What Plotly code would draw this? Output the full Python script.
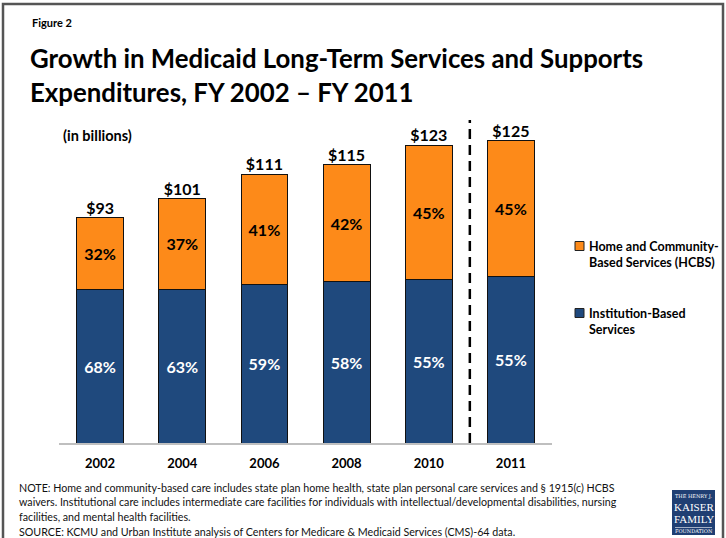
import plotly.graph_objects as go

years = ["2002", "2004", "2006", "2008", "2010", "2011"]
totals = [93, 101, 111, 115, 123, 125]
inst_pct = [68, 63, 59, 58, 55, 55]
hcbs_pct = [32, 37, 41, 42, 45, 45]
total_labels = ["$93", "$101", "$111", "$115", "$123", "$125"]
legend_names = ["Home and Community-<br>Based Services (HCBS)", "Institution-Based<br>Services"]
note_lines = [
    "NOTE: Home and community-based care includes state plan home health, state plan personal care services and § 1915(c) HCBS",
    "waivers. Institutional care includes intermediate care facilities for individuals with intellectual/developmental disabilities, nursing",
    "facilities, and mental health facilities.",
    "SOURCE: KCMU and Urban Institute analysis of Centers for Medicare & Medicaid Services (CMS)-64 data.",
]

inst_vals = [t * p / 100 for t, p in zip(totals, inst_pct)]
hcbs_vals = [t - i for t, i in zip(totals, inst_vals)]

ORANGE = "#FD8A19"
BLUE = "#1F497D"
FONT = "Lato"
W, H = 726, 538

def px(x):
    return x / W

def py(y):
    return 1 - y / H

fig = go.Figure()
fig.add_trace(go.Bar(
    x=years, y=inst_vals, name="Institution-Based Services",
    marker=dict(color=BLUE, line=dict(color="#111111", width=1)),
    text=[f"<b>{p}%</b>" for p in inst_pct], textposition="inside",
    insidetextanchor="middle", textangle=0,
    textfont=dict(color="white", size=16, family=FONT),
    hoverinfo="skip"))
fig.add_trace(go.Bar(
    x=years, y=hcbs_vals, name="Home and Community-Based Services (HCBS)",
    marker=dict(color=ORANGE, line=dict(color="#111111", width=1)),
    text=[f"<b>{p}%</b>" for p in hcbs_pct], textposition="inside",
    insidetextanchor="middle", textangle=0,
    textfont=dict(color="black", size=16, family=FONT),
    hoverinfo="skip"))
fig.add_trace(go.Scatter(
    x=years, y=totals, mode="text",
    text=[f"<b>{t}</b>" for t in total_labels], textposition="top center",
    textfont=dict(color="black", size=16, family=FONT),
    hoverinfo="skip", cliponaxis=False))

ymax = (443 - 110) / 2.42
fig.update_layout(
    width=W, height=H, margin=dict(l=0, r=0, t=0, b=0),
    paper_bgcolor="white", plot_bgcolor="white",
    barmode="stack", bargap=0.43, showlegend=False,
    font=dict(family=FONT, color="black"),
    xaxis=dict(domain=[px(59), px(552)], range=[-0.5, 5.5], type="category",
               showgrid=False, zeroline=False, showline=True,
               linecolor="#BFBFBF", linewidth=1.5, ticks="",
               tickfont=dict(size=13, color="black", family=FONT),
               ticklabelstandoff=8,
               tickvals=years, ticktext=[f"<b>{y}</b>" for y in years]),
    yaxis=dict(domain=[py(443), py(110)], range=[0, ymax], visible=False),
)

shapes = [
    dict(type="line", xref="x", yref="y", x0=4.5, x1=4.5, y0=0, y1=(443 - 120) / 2.42,
         line=dict(color="black", width=2.5, dash="10px,6px")),
    dict(type="rect", xref="paper", yref="paper", x0=px(3), x1=px(723), y0=py(545), y1=py(4),
         line=dict(color="#555555", width=2.5), fillcolor="rgba(0,0,0,0)", layer="above"),
    dict(type="rect", xref="paper", yref="paper", x0=px(672), x1=px(715), y0=py(535), y1=py(490),
         line=dict(width=0), fillcolor="#1F3F73"),
    dict(type="line", xref="paper", yref="paper", x0=px(675), x1=px(712), y0=py(527.5), y1=py(527.5),
         line=dict(color="white", width=0.6)),
]
leg_y = [246, 313]
leg_col = [ORANGE, BLUE]
for yy, c in zip(leg_y, leg_col):
    shapes.append(dict(type="rect", xref="paper", yref="paper",
                       x0=px(575), x1=px(584), y0=py(yy + 4.5), y1=py(yy - 4.5),
                       line=dict(color="#222222", width=1), fillcolor=c))
fig.update_layout(shapes=shapes)

ann = [
    dict(text="<b>Figure 2</b>", x=px(30), y=py(22), xanchor="left", yanchor="middle",
         font=dict(size=11, family=FONT)),
    dict(text="<b>Growth in Medicaid Long-Term Services and Supports<br>Expenditures, FY 2002 – FY 2011</b>",
         x=px(28), y=py(41), xanchor="left", yanchor="top", align="left",
         font=dict(size=25.8, family=FONT)),
    dict(text="<b>(in billions)</b>", x=px(61), y=py(136), xanchor="left", yanchor="middle",
         font=dict(size=14.5, family=FONT)),
    dict(text="THE HENRY J.", x=px(693.5), y=py(496), xanchor="center", yanchor="middle",
         font=dict(size=5, family="DejaVu Serif", color="white")),
    dict(text="KAISER", x=px(693.5), y=py(506.5), xanchor="center", yanchor="middle",
         font=dict(size=11, family="Liberation Serif", color="white")),
    dict(text="FAMILY", x=px(693.5), y=py(518.5), xanchor="center", yanchor="middle",
         font=dict(size=11, family="Liberation Serif", color="white")),
    dict(text="FOUNDATION", x=px(693.5), y=py(531), xanchor="center", yanchor="middle",
         font=dict(size=5, family="DejaVu Serif", color="white")),
]
for i, line in enumerate(note_lines):
    ann.append(dict(text=line, x=px(17), y=py(487 + i * 14.7), xanchor="left", yanchor="middle",
                    font=dict(size=10.7, family=FONT, color="#111111")))
for yy, name in zip(leg_y, legend_names):
    ann.append(dict(text=f"<b>{name}</b>", x=px(587), y=py(yy - 9), xanchor="left", yanchor="top",
                    align="left", font=dict(size=12.5, family=FONT)))
for a in ann:
    a.setdefault("xref", "paper")
    a.setdefault("yref", "paper")
    a.setdefault("showarrow", False)
fig.update_layout(annotations=ann)

fig.write_html("out.html")
